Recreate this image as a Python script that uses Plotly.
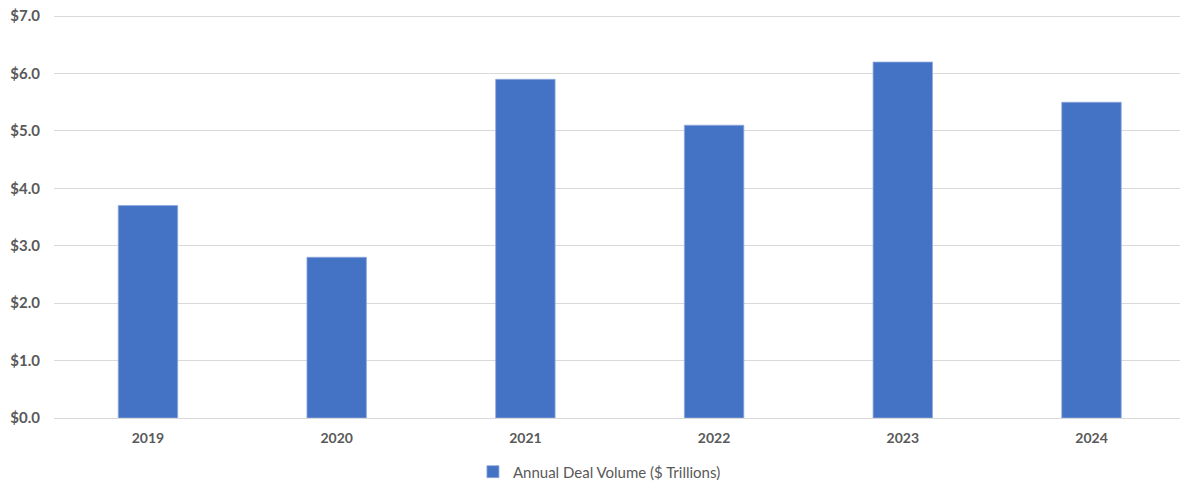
import plotly.graph_objects as go

years = ["2019", "2020", "2021", "2022", "2023", "2024"]
deal_volume = [3.7, 2.8, 5.9, 5.1, 6.2, 5.5]
series_name = "Annual Deal Volume ($ Trillions)"

fig = go.Figure()
fig.add_trace(go.Bar(
    x=years, y=deal_volume, name=series_name,
    marker=dict(color="#4472C4", line=dict(color="#8FAADC", width=0.8)),
    width=0.315,
))

fig.update_layout(
    width=1180, height=483,
    margin=dict(l=54, r=0, t=15, b=65, autoexpand=False),
    plot_bgcolor="white", paper_bgcolor="white",
    font=dict(family="Lato, Calibri, sans-serif", color="#595959", size=14),
    showlegend=True,
    legend=dict(orientation="h", x=0.508, xanchor="center", xref="container",
                y=0.023, yanchor="middle", yref="container",
                itemwidth=30,
                font=dict(size=15, color="#595959")),
    xaxis=dict(range=[-0.498, 5.469], showgrid=False, showline=False, ticks="",
               tickfont=dict(size=14, weight="bold", color="#595959"),
               ticklabelstandoff=10),
    yaxis=dict(range=[0, 7.02], tick0=0, dtick=1,
               tickprefix="$", showtickprefix="all", tickformat=".1f",
               showgrid=True, gridcolor="#D9D9D9", gridwidth=1,
               zeroline=True, zerolinecolor="#D9D9D9", zerolinewidth=1,
               showline=False, ticks="",
               tickfont=dict(size=15, weight="bold", color="#595959"),
               ticklabelstandoff=13),
)

fig.write_html(
    "out.html",
    config={"displayModeBar": False},
    post_script="document.body.style.margin='0';document.body.style.overflow='hidden';",
)
